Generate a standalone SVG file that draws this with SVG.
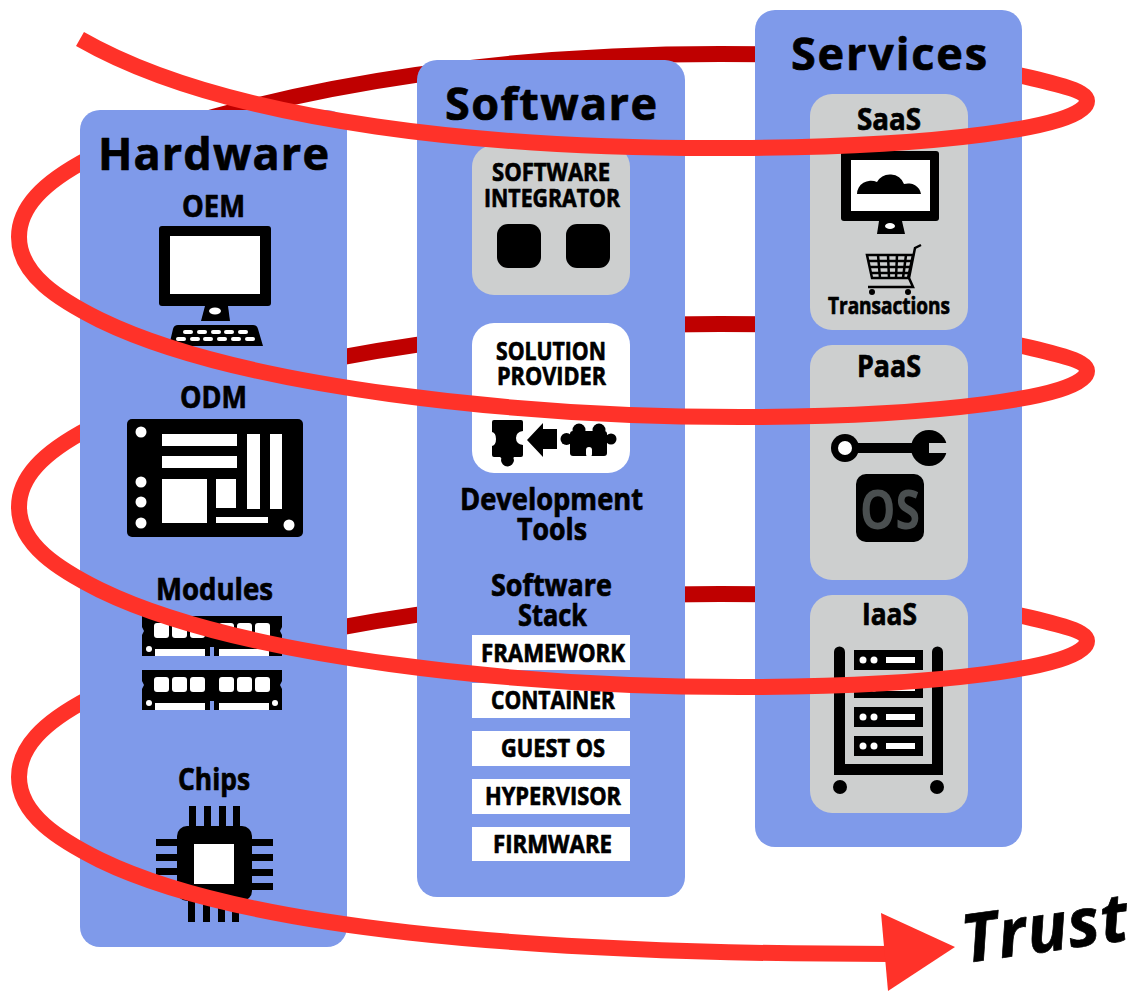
<svg xmlns="http://www.w3.org/2000/svg" width="1134" height="991" viewBox="0 0 1134 991">
<style>
.panel{fill:#7f9aea}
.gray{fill:#cdcfcf}
.white{fill:#fff}
.k{fill:#000}
.t{font-family:"Open Sans","Liberation Sans",sans-serif;font-weight:700;fill:#000;stroke:#000;stroke-width:.7;stroke-linejoin:round}
.bright{fill:none;stroke:#ff3229;stroke-width:16}
.dark{fill:none;stroke:#bf0000;stroke-width:16}
</style>
<rect width="1134" height="991" fill="#fff"/>
<g id="connectors-back">
<path class="bright" d="M19,237C19,208 42,183 90,158"/>
<path class="bright" d="M19,507C19,478 42,453 90,428"/>
<path class="bright" d="M19,777C19,748 42,723 90,698"/>
<path class="bright" d="M1087,101C1087,90 1050,82 1005,72"/>
<path class="bright" d="M1087,371C1087,360 1050,352 1005,342"/>
<path class="bright" d="M1087,641C1087,630 1050,622 1005,612"/>
<path class="dark" d="M1005,72C930,60 850,54 720,54C540,54 300,75 90,158"/>
<path class="dark" d="M1005,342C930,330 850,324 720,324C540,324 300,345 90,428"/>
<path class="dark" d="M1005,612C930,600 850,594 720,594C540,594 300,615 90,698"/>
</g>
<g id="hardware">
<rect class="panel" x="80" y="110" width="267" height="837" rx="20"/>
<text class="t" x="98" y="170" font-size="45" textLength="231" lengthAdjust="spacing">Hardware</text>
<text class="t" x="182" y="217" font-size="30" textLength="63" lengthAdjust="spacingAndGlyphs">OEM</text>
<rect class="k" x="159" y="226" width="112" height="80" rx="3"/>
<rect class="white" x="170" y="236" width="90" height="58"/>
<path class="k" d="M205,306H228L230,321H201Z"/>
<ellipse class="white" cx="215" cy="311" rx="6" ry="3.5"/>
<path class="k" d="M173,329Q174,325 178,325H253Q257,325 258,329L263,346H169Z"/>
<g class="white">
<rect x="183" y="330" width="10" height="4" rx="2"/><rect x="197" y="330" width="10" height="4" rx="2"/><rect x="211" y="330" width="10" height="4" rx="2"/><rect x="224" y="330" width="10" height="4" rx="2"/><rect x="238" y="330" width="10" height="4" rx="2"/>
<rect x="176" y="337" width="10" height="4" rx="2"/><rect x="190" y="337" width="10" height="4" rx="2"/><rect x="203" y="337" width="10" height="4" rx="2"/><rect x="217" y="337" width="10" height="4" rx="2"/><rect x="231" y="337" width="10" height="4" rx="2"/><rect x="245" y="337" width="10" height="4" rx="2"/>
</g>
<text class="t" x="180" y="408" font-size="30" textLength="67" lengthAdjust="spacingAndGlyphs">ODM</text>
<rect class="k" x="127" y="419" width="176" height="118" rx="5"/>
<g class="white">
<rect x="162" y="434" width="75" height="12"/><rect x="162" y="456" width="75" height="12"/>
<rect x="247" y="434" width="13" height="75"/><rect x="270" y="434" width="12" height="75"/>
<rect x="162" y="479" width="45" height="44"/><rect x="216" y="479" width="20" height="29"/><rect x="216" y="517" width="52" height="6"/>
<circle cx="141" cy="432" r="5.5"/><circle cx="141" cy="482" r="5.5"/><circle cx="141" cy="502" r="5.5"/><circle cx="141" cy="523" r="5.5"/><circle cx="289" cy="525" r="5.5"/>
</g>
<text class="t" x="156" y="600" font-size="30" textLength="117" lengthAdjust="spacingAndGlyphs">Modules</text>
<g id="module1">
<path class="k" d="M142,616H282V627L280,631L282,635V656H142V635L144,631L142,627Z"/>
<g class="white">
<rect x="154" y="623" width="15" height="15" rx="3"/><rect x="172" y="623" width="15" height="15" rx="3"/><rect x="190" y="623" width="15" height="15" rx="3"/><rect x="219" y="623" width="15" height="15" rx="3"/><rect x="237" y="623" width="15" height="15" rx="3"/><rect x="255" y="623" width="15" height="15" rx="3"/>
<rect x="155" y="649" width="50" height="7"/><rect x="219" y="649" width="50" height="7"/><rect x="210" y="647" width="4" height="9" fill="#7f9aea"/>
<circle cx="149" cy="649" r="3"/><circle cx="275" cy="649" r="3"/>
</g>
</g>
<g id="module2">
<path class="k" d="M142,670H282V681L280,685L282,689V710H142V689L144,685L142,681Z"/>
<g class="white">
<rect x="154" y="677" width="15" height="15" rx="3"/><rect x="172" y="677" width="15" height="15" rx="3"/><rect x="190" y="677" width="15" height="15" rx="3"/><rect x="219" y="677" width="15" height="15" rx="3"/><rect x="237" y="677" width="15" height="15" rx="3"/><rect x="255" y="677" width="15" height="15" rx="3"/>
<rect x="155" y="703" width="50" height="7"/><rect x="219" y="703" width="50" height="7"/><rect x="210" y="701" width="4" height="9" fill="#7f9aea"/>
<circle cx="149" cy="703" r="3"/><circle cx="275" cy="703" r="3"/>
</g>
</g>
<text class="t" x="178" y="790" font-size="30" textLength="72" lengthAdjust="spacingAndGlyphs">Chips</text>
<g class="k">
<rect x="189" y="806" width="7" height="22"/><rect x="204" y="806" width="7" height="22"/><rect x="219" y="806" width="7" height="22"/><rect x="233" y="806" width="7" height="22"/>
<rect x="188" y="898" width="7" height="24"/><rect x="203" y="898" width="7" height="24"/><rect x="218" y="898" width="7" height="24"/><rect x="232" y="898" width="7" height="24"/>
<rect x="156" y="839" width="22" height="7"/><rect x="156" y="854" width="22" height="7"/><rect x="156" y="868" width="22" height="7"/><rect x="156" y="883" width="22" height="7"/>
<rect x="251" y="839" width="22" height="7"/><rect x="251" y="854" width="22" height="7"/><rect x="251" y="869" width="22" height="7"/><rect x="251" y="883" width="22" height="7"/>
<rect x="177" y="826" width="75" height="75" rx="10"/>
</g>
<rect class="white" x="194" y="844" width="40" height="40"/>
</g>
<g id="software">
<rect class="panel" x="417" y="60" width="268" height="837" rx="20"/>
<text class="t" x="445" y="120" font-size="45" textLength="212" lengthAdjust="spacing">Software</text>
<rect class="gray" x="472" y="145" width="158" height="150" rx="22"/>
<text class="t" x="492" y="181" font-size="25" textLength="118" lengthAdjust="spacingAndGlyphs">SOFTWARE</text>
<text class="t" x="484" y="207" font-size="25" textLength="136" lengthAdjust="spacingAndGlyphs">INTEGRATOR</text>
<rect class="k" x="497" y="224" width="44" height="44" rx="11"/>
<rect class="k" x="566" y="224" width="44" height="44" rx="11"/>
<rect class="white" x="472" y="323" width="158" height="150" rx="22"/>
<text class="t" x="496" y="360" font-size="25" textLength="110" lengthAdjust="spacingAndGlyphs">SOLUTION</text>
<text class="t" x="497" y="385" font-size="25" textLength="109" lengthAdjust="spacingAndGlyphs">PROVIDER</text>
<g class="k">
<path d="M494,420H521Q523,420 523,422V431Q516,432 516,438Q516,444 523,445V455Q523,457 521,457H514Q513,458 514,460A6.5,6.5 0 1 1 501,460Q502,458 500,457H494Q492,457 492,455V446Q496,445 496,439Q496,433 492,432V422Q492,420 494,420Z"/>
<path d="M527,440L543,423V429H557V449H543V457Z"/>
<rect x="570" y="431" width="37" height="25" rx="3"/><circle cx="579" cy="430" r="6.5"/><circle cx="599" cy="430" r="6.5"/><circle cx="566.500" cy="439" r="6"/><circle cx="611" cy="439" r="5.500"/>
</g>
<rect class="white" x="586" y="447" width="6" height="10" rx="3"/>
<text class="t" x="460" y="510" font-size="30" textLength="183" lengthAdjust="spacingAndGlyphs">Development</text>
<text class="t" x="517" y="540" font-size="30" textLength="70" lengthAdjust="spacingAndGlyphs">Tools</text>
<text class="t" x="491" y="596" font-size="30" textLength="121" lengthAdjust="spacingAndGlyphs">Software</text>
<text class="t" x="518" y="626" font-size="30" textLength="69" lengthAdjust="spacingAndGlyphs">Stack</text>
<g class="white">
<rect x="472" y="635" width="158" height="35"/><rect x="472" y="683" width="158" height="35"/><rect x="472" y="731" width="158" height="35"/><rect x="472" y="779" width="158" height="35"/><rect x="472" y="827" width="158" height="34"/>
</g>
<text class="t" x="481" y="662" font-size="25" textLength="144" lengthAdjust="spacingAndGlyphs">FRAMEWORK</text>
<text class="t" x="491" y="709" font-size="25" textLength="124" lengthAdjust="spacingAndGlyphs">CONTAINER</text>
<text class="t" x="501" y="757" font-size="25" textLength="104" lengthAdjust="spacingAndGlyphs">GUEST OS</text>
<text class="t" x="485" y="805" font-size="25" textLength="136" lengthAdjust="spacingAndGlyphs">HYPERVISOR</text>
<text class="t" x="493" y="853" font-size="25" textLength="119" lengthAdjust="spacingAndGlyphs">FIRMWARE</text>
</g>
<g id="services">
<rect class="panel" x="755" y="10" width="267" height="837" rx="20"/>
<text class="t" x="791" y="70" font-size="45" textLength="196" lengthAdjust="spacing">Services</text>
<rect class="gray" x="810" y="94" width="158" height="236" rx="22"/>
<rect class="gray" x="810" y="345" width="158" height="235" rx="22"/>
<rect class="gray" x="810" y="595" width="158" height="218" rx="22"/>
<text class="t" x="857" y="130" font-size="30" textLength="64" lengthAdjust="spacingAndGlyphs">SaaS</text>
<rect class="k" x="841" y="151" width="98" height="70" rx="3"/>
<rect class="white" x="851" y="160" width="79" height="51"/>
<path class="k" d="M857,194A14,13 0 0 1 877,182A15,15 0 0 1 904,184A13,12 0 0 1 921,194Z"/>
<path class="k" d="M879,221H902L905,234H877Z"/>
<ellipse class="white" cx="890" cy="226" rx="5" ry="3"/>
<g fill="none" stroke="#000" stroke-width="2.500">
<path d="M867,255H913L908,278H872Z"/>
<path d="M868,261H912M869,267H911M870,273H910M878,255L880,278M888,255L889,278M897,255L896,278M906,255L903,278"/>
<path d="M868,287H913L909,278L915,248L921,245"/>
</g>
<circle class="k" cx="872" cy="292" r="3"/><circle class="k" cx="908" cy="292" r="3"/>
<text class="t" x="828" y="314" font-size="23" textLength="122" lengthAdjust="spacingAndGlyphs">Transactions</text>
<text class="t" x="857" y="377" font-size="30" textLength="64" lengthAdjust="spacingAndGlyphs">PaaS</text>
<circle class="k" cx="845" cy="448" r="14"/><circle class="white" cx="845" cy="448" r="7"/>
<rect class="k" x="855" y="443" width="70" height="10"/>
<circle class="k" cx="929" cy="448" r="18"/>
<rect class="gray" x="929" y="443" width="18" height="10"/>
<rect class="k" x="856" y="474" width="68" height="68" rx="10"/>
<text x="860" y="529" font-family="'Open Sans','Liberation Sans',sans-serif" font-weight="700" font-size="54" fill="#4a4f50" textLength="60" lengthAdjust="spacingAndGlyphs">OS</text>
<text class="t" x="862" y="625" font-size="30" textLength="55" lengthAdjust="spacingAndGlyphs">IaaS</text>
<path class="k" d="M834,652a5.500,5.500 0 0 1 11,0V764H932V652a5.500,5.500 0 0 1 11,0V775H834Z"/>
<g class="k">
<rect x="854" y="650" width="69" height="20"/><rect x="854" y="678" width="69" height="20"/><rect x="854" y="707" width="69" height="20"/><rect x="854" y="736" width="69" height="20"/>
<circle cx="840" cy="787" r="7"/><circle cx="937" cy="787" r="7"/>
</g>
<g class="white">
<circle cx="863" cy="660" r="3.500"/><circle cx="874" cy="660" r="3.500"/><rect x="886" y="657" width="29" height="6"/>
<circle cx="863" cy="688" r="3.500"/><circle cx="874" cy="688" r="3.500"/><rect x="886" y="685" width="29" height="6"/>
<circle cx="863" cy="717" r="3.500"/><circle cx="874" cy="717" r="3.500"/><rect x="886" y="714" width="29" height="6"/>
<circle cx="863" cy="746" r="3.500"/><circle cx="874" cy="746" r="3.500"/><rect x="886" y="743" width="29" height="6"/>
</g>
</g>
<g id="connectors">
<path class="bright" d="M80,39C230,125 500,150 740,148C930,147 1087,128 1087,101"/>
<path class="bright" d="M19,237C19,275 60,300 100,320C240,388 520,417 740,417C930,417 1087,398 1087,371"/>
<path class="bright" d="M19,507C19,545 60,570 100,590C240,658 520,687 740,687C930,687 1087,668 1087,641"/>
<path class="bright" d="M19,777C19,815 60,840 100,860C240,928 520,954 890,954"/>
<path d="M881,913L955,947L888,991Z" fill="#ff3229"/>
</g>
<text id="trust" class="t" x="0" y="0" transform="translate(965,963) rotate(-8)" font-style="italic" font-size="67" textLength="167" lengthAdjust="spacing">Trust</text>
</svg>
